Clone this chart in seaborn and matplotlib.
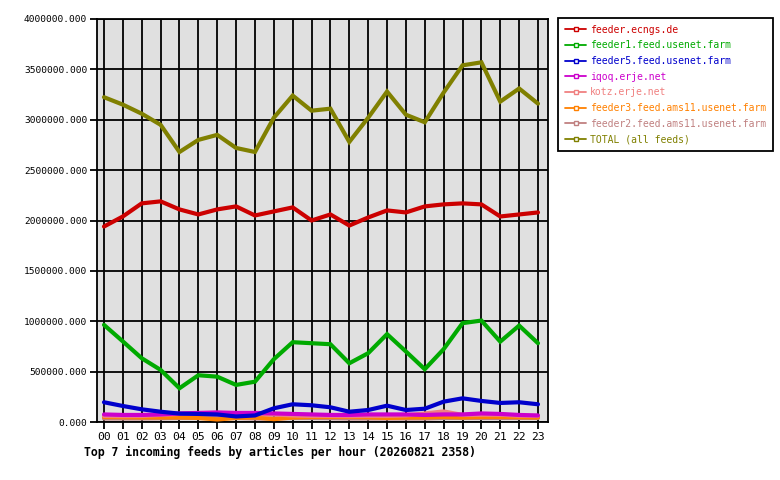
import numpy as np
import pandas as pd
import seaborn as sns
import matplotlib
matplotlib.use("Agg")
import matplotlib.pyplot as plt
from matplotlib.lines import Line2D
from matplotlib.ticker import FormatStrFormatter

# ===== data (articles per hour) =====
hours = ["%02d" % h for h in range(24)]

ecngs = [1940000, 2040000, 2170000, 2190000, 2110000, 2060000, 2110000, 2140000,
         2050000, 2090000, 2130000, 2000000, 2060000, 1950000, 2030000, 2100000,
         2080000, 2140000, 2160000, 2170000, 2160000, 2040000, 2060000, 2080000]
feed1 = [964000, 800000, 633000, 517000, 335000, 464000, 450000, 368000,
         400000, 623000, 792000, 782000, 772000, 583000, 683000, 872000,
         700000, 524000, 723000, 981000, 1007000, 798000, 957000, 782000]
feed5 = [196000, 159000, 126000, 102000, 83000, 80000, 75000, 55000,
         65000, 136000, 176000, 166000, 146000, 102000, 119000, 162000,
         119000, 132000, 202000, 235000, 209000, 189000, 196000, 176000]
iqoq = [75000, 70000, 70000, 75000, 85000, 90000, 95000, 90000,
        90000, 85000, 80000, 75000, 70000, 70000, 75000, 75000,
        75000, 70000, 75000, 75000, 85000, 80000, 70000, 65000]
kotz = [60000, 58000, 60000, 70000, 80000, 85000, 90000, 85000,
        80000, 75000, 65000, 60000, 60000, 58000, 60000, 60000,
        65000, 85000, 105000, 70000, 72000, 72000, 62000, 60000]
ams3 = [50000, 48000, 46000, 45000, 45000, 40000, 25000, 40000,
        45000, 28000, 45000, 50000, 50000, 50000, 48000, 40000,
        45000, 45000, 50000, 45000, 50000, 50000, 48000, 45000]
ams2 = [35000, 35000, 35000, 37000, 40000, 40000, 40000, 40000,
        35000, 35000, 40000, 40000, 38000, 35000, 35000, 35000,
        35000, 35000, 40000, 40000, 40000, 40000, 40000, 40000]
total = [3224000, 3150000, 3060000, 2950000, 2680000, 2800000, 2850000, 2720000,
         2680000, 3020000, 3240000, 3090000, 3110000, 2780000, 3020000, 3280000,
         3050000, 2975000, 3270000, 3540000, 3570000, 3180000, 3310000, 3160000]

feed_names = ["feeder.ecngs.de", "feeder1.feed.usenet.farm", "feeder5.feed.usenet.farm",
              "iqoq.erje.net", "kotz.erje.net", "feeder3.feed.ams11.usenet.farm",
              "feeder2.feed.ams11.usenet.farm", "TOTAL (all feeds)"]
feed_values = [ecngs, feed1, feed5, iqoq, kotz, ams3, ams2, total]
feed_colors = ["#cc0000", "#00aa00", "#0000cc", "#cc00cc",
               "#f08080", "#ff8000", "#c08080", "#808000"]

title = "Top 7 incoming feeds by articles per hour (20260821 2358)"

# ===== long table for seaborn =====
rows = []
for name, vals in zip(feed_names, feed_values):
    for i, v in enumerate(vals):
        rows.append({"hour": i, "feed": name, "articles": v})
df = pd.DataFrame(rows)

# small feeds first, big ones on top
draw_order = [feed_names[i] for i in [6, 5, 4, 3, 2, 1, 0, 7]]

sns.set_style("white", {"axes.facecolor": "#e0e0e0"})
plt.rcParams["font.family"] = ["DejaVu Sans Mono", "DejaVu Sans"]
plt.rcParams["text.color"] = "black"
plt.rcParams["xtick.color"] = "black"
plt.rcParams["ytick.color"] = "black"

fig = plt.figure(figsize=(7.8, 4.8), dpi=100)
ax = fig.add_axes([97 / 780, 1 - 422 / 480, 451 / 780, 403 / 480])

palette = dict(zip(feed_names, feed_colors))
for name in draw_order:
    sns.lineplot(data=df[df["feed"] == name], x="hour", y="articles",
                 color=palette[name], linewidth=3.0, ax=ax, legend=False,
                 solid_joinstyle="miter", zorder=3)

ax.set_xlim(-0.37, 23.53)
ax.set_ylim(0, 4000000)
ax.set_xticks(range(24))
ax.set_xticklabels(hours)
ax.set_yticks(np.arange(0, 4000001, 500000))
ax.yaxis.set_major_formatter(FormatStrFormatter("%.3f"))
ax.grid(True, color="black", linewidth=1.3)
ax.set_axisbelow(True)
ax.set_xlabel("")
ax.set_ylabel("")
for s in ax.spines.values():
    s.set_color("black")
    s.set_linewidth(1.3)
ax.tick_params(axis="y", length=5, width=1.3, labelsize=6.8, pad=2, left=True)
ax.tick_params(axis="x", length=5, width=1.3, labelsize=8.2, pad=2, bottom=True)

# ===== legend =====
handles = [Line2D([0], [0], color=c, linewidth=1.3, marker="s", markersize=3,
                  markerfacecolor="white", markeredgecolor=c, markeredgewidth=1)
           for c in feed_colors]
leg = fig.legend(handles, feed_names, loc="upper left",
                 bbox_to_anchor=(558 / 780, 1 - 18 / 480), fontsize=7.0,
                 frameon=True, fancybox=False, facecolor="white", framealpha=1,
                 handlelength=2.2, handletextpad=0.4,
                 labelspacing=0.58, borderpad=0.7, borderaxespad=0)
leg.get_frame().set_edgecolor("black")
leg.get_frame().set_linewidth(1.3)
for txt, c in zip(leg.get_texts(), feed_colors):
    txt.set_color(c)

fig.text(84 / 780, 1 - 452 / 480, title, ha="left", va="center",
         fontsize=8.3, fontweight="bold")

fig.savefig("out.png", dpi=100)
plt.close(fig)
